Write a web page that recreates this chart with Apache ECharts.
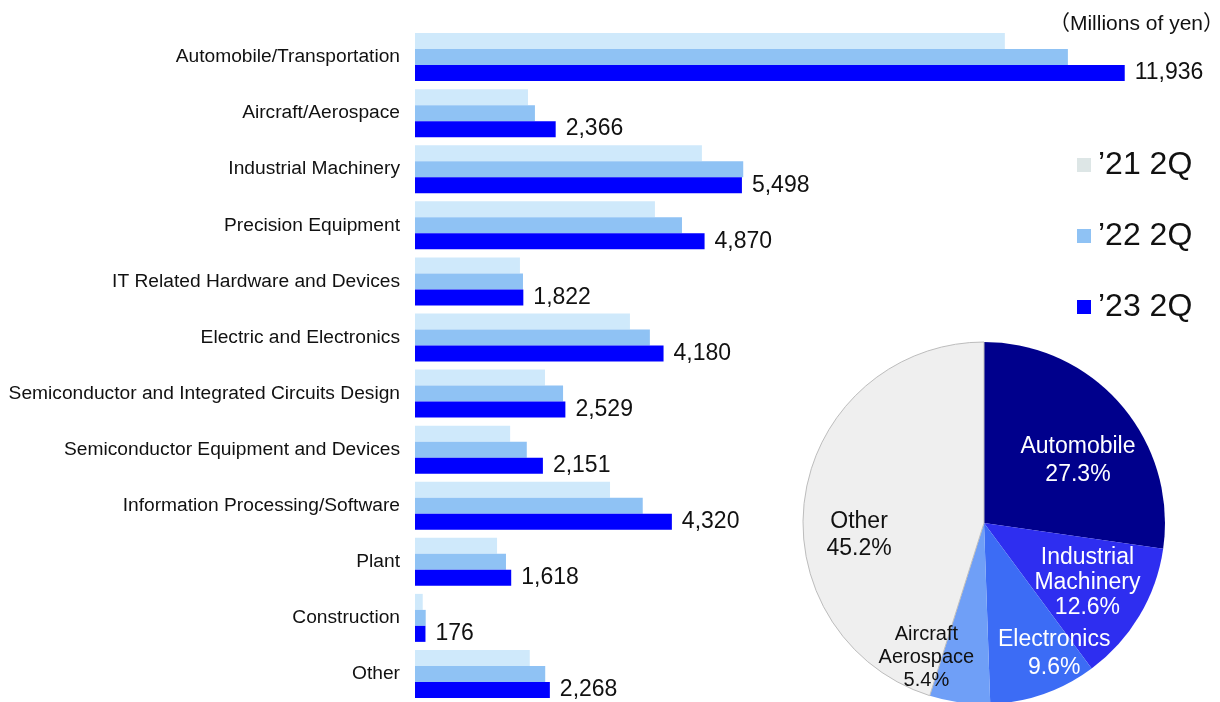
<!DOCTYPE html>
<html>
<head>
<meta charset="utf-8">
<script src="https://cdn.jsdelivr.net/npm/echarts@6/dist/echarts.min.js"></script>
<style>
  html, body { margin: 0; padding: 0; background: #ffffff; }
  #chart { width: 1220px; height: 702px; }
</style>
</head>
<body>
<div id="chart"></div>
<script>
// Sales by industry, three second quarters (millions of yen)
const categories = [
  'Automobile/Transportation',
  'Aircraft/Aerospace',
  'Industrial Machinery',
  'Precision Equipment',
  'IT Related Hardware and Devices',
  'Electric and Electronics',
  'Semiconductor and Integrated Circuits Design',
  'Semiconductor Equipment and Devices',
  'Information Processing/Software',
  'Plant',
  'Construction',
  'Other'
];
const seriesNames = ['\u201921 2Q', '\u201922 2Q', '\u201923 2Q'];
const sales21 = [9920, 1900, 4825, 4035, 1765, 3615, 2186, 1600, 3280, 1380, 130, 1930];
const sales22 = [10980, 2017, 5520, 4490, 1816, 3950, 2490, 1880, 3830, 1530, 180, 2190];
const sales23 = [11936, 2366, 5498, 4870, 1822, 4180, 2529, 2151, 4320, 1618, 176, 2268];

// Share of the latest quarter
const shareNames = ['Automobile', 'Industrial\nMachinery', 'Electronics', 'Aircraft\nAerospace', 'Other'];
const shareValues = [27.3, 12.6, 9.6, 5.4, 45.2];

const unitText = '\uff08Millions of yen\uff09';

// Styling
const barColors = ['#cfe9fb', '#8fc2f4', '#0000ff'];
const legendIconColors = ['#dde6e6', '#8fc2f4', '#0000ff'];
const pieColors = ['#00008c', '#2e2ef0', '#3c6cf5', '#6f9ff7', '#efefef'];
const pieTextColors = ['#ffffff', '#ffffff', '#ffffff', '#111111', '#111111'];
const pieFontSizes = [23, 23, 23, 20, 23];
const pieLineHeights = [28, 25, 28, 23, 27];
// label placement inside each slice: [fraction of radius, angle nudge in degrees]
const pieLabelPlace = [[0.622, 7.5], [0.659, -1], [0.82, -9], [0.81, 15.4], [0.694, -14.5]];
const pieCenter = [984, 523];
const pieRadius = 181;

const sans = '"Liberation Sans", Arial, sans-serif';

const barData = [sales21, sales22, sales23];

const total = shareValues.reduce((a, b) => a + b, 0);
const cumStart = [];
shareValues.reduce((acc, v, i) => { cumStart[i] = acc; return acc + v; }, 0);

const chart = echarts.init(document.getElementById('chart'));

chart.setOption({
  backgroundColor: '#ffffff',
  animation: false,
  title: {
    text: unitText,
    right: -9,
    top: 9,
    textStyle: { fontFamily: sans + ', "Noto Sans CJK JP"', fontSize: 21, fontWeight: 'normal', color: '#111111' }
  },
  legend: {
    orient: 'vertical',
    left: 1072,
    top: 144,
    itemWidth: 14,
    itemHeight: 14,
    itemGap: 39,
    icon: 'rect',
    data: seriesNames.map((n, i) => ({ name: n, itemStyle: { color: legendIconColors[i] } })),
    textStyle: { fontFamily: sans, fontSize: 32, color: '#111111', padding: [0, 0, 0, 2] }
  },
  grid: { left: 415, top: 29, height: 677, right: 32, containLabel: false },
  xAxis: { type: 'value', min: 0, max: 13000, show: false },
  yAxis: {
    type: 'category',
    data: categories,
    inverse: true,
    axisLine: { show: false },
    axisTick: { show: false },
    splitLine: { show: false },
    axisLabel: { margin: 15, fontFamily: sans, fontSize: 19.2, color: '#111111' }
  },
  series: [
    ...barData.map((vals, i) => ({
      type: 'bar',
      name: seriesNames[i],
      data: vals,
      barWidth: 16,
      barGap: '0%',
      itemStyle: { color: barColors[i] },
      label: i === 2 ? {
        show: true,
        position: 'right',
        distance: 10,
        fontFamily: sans,
        fontSize: 23,
        color: '#111111',
        formatter: p => p.value.toLocaleString('en-US')
      } : { show: false }
    })),
    {
      type: 'pie',
      name: 'share',
      center: pieCenter,
      radius: [0, pieRadius],
      startAngle: 90,
      clockwise: true,
      silent: true,
      data: shareNames.map((n, i) => ({
        name: n,
        value: shareValues[i],
        itemStyle: i === 4
          ? { color: pieColors[i], borderColor: '#bdbdbd', borderWidth: 1 }
          : { color: pieColors[i], borderColor: pieColors[i], borderWidth: 0 },
        label: {
          color: pieTextColors[i],
          fontSize: pieFontSizes[i],
          lineHeight: pieLineHeights[i]
        }
      })),
      label: {
        show: true,
        position: 'inside',
        fontFamily: sans,
        align: 'center',
        formatter: p => p.name + '\n' + p.value.toFixed(1) + '%'
      },
      labelLine: { show: false },
      labelLayout: function (p) {
        const i = p.dataIndex;
        const mid = (cumStart[i] + shareValues[i] / 2) / total * 360 + pieLabelPlace[i][1];
        const a = mid * Math.PI / 180;
        const r = pieRadius * pieLabelPlace[i][0];
        return {
          x: pieCenter[0] + r * Math.sin(a),
          y: pieCenter[1] - r * Math.cos(a),
          align: 'center',
          verticalAlign: 'middle'
        };
      }
    }
  ]
});
</script>
</body>
</html>
